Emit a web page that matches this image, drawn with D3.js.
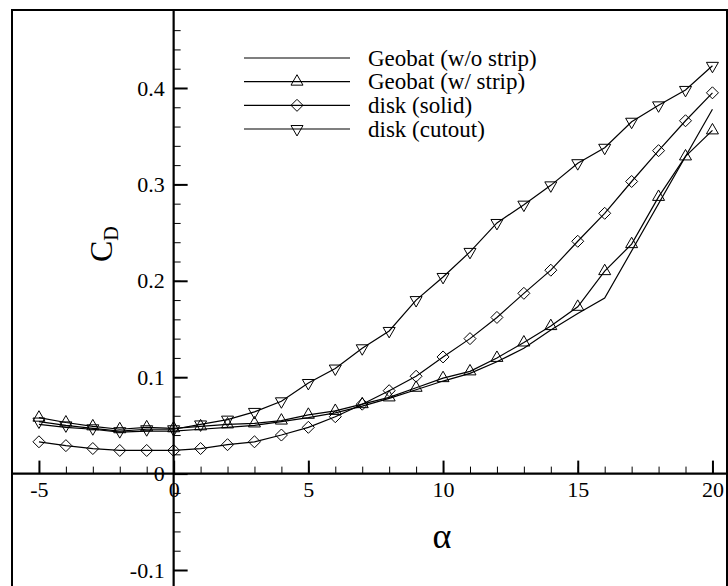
<!DOCTYPE html>
<html>
<head>
<meta charset="utf-8">
<script src="https://cdn.jsdelivr.net/npm/d3@7"></script>
<style>
  body { margin: 0; background: #fff; }
  svg text { font-family: "Liberation Serif", "Times New Roman", "DejaVu Serif", serif; fill: #000; }
</style>
</head>
<body>
<svg id="chart" width="728" height="586"></svg>
<script>
//--------------------------DATA---------------------------------------------------

var alpha = [-5,-4,-3,-2,-1,0,1,2,3,4,5,6,7,8,9,10,11,12,13,14,15,16,17,18,19,20];

// w/o strip has no point between 16 and 20, the line just goes straight
var alphaNoStrip = [-5,-4,-3,-2,-1,0,1,2,3,4,5,6,7,8,9,10,11,12,13,14,15,16,20];
var cdNoStrip = [0.051,0.048,0.046,0.043,0.044,0.044,0.046,0.048,0.050,0.054,0.058,0.063,0.070,0.078,0.087,0.096,0.104,0.116,0.130,0.149,0.166,0.182,0.378];

var cdStrip = [0.058,0.053,0.049,0.046,0.048,0.047,0.049,0.051,0.052,0.055,0.061,0.065,0.072,0.079,0.089,0.099,0.106,0.120,0.136,0.153,0.173,0.210,0.238,0.287,0.329,0.356];

var cdSolid = [0.033,0.029,0.026,0.024,0.024,0.024,0.026,0.030,0.033,0.040,0.048,0.059,0.072,0.086,0.101,0.121,0.140,0.162,0.187,0.211,0.241,0.270,0.303,0.335,0.366,0.395];

var cdCutout = [0.054,0.050,0.047,0.044,0.046,0.046,0.051,0.056,0.064,0.075,0.094,0.109,0.130,0.148,0.180,0.204,0.230,0.260,0.279,0.299,0.322,0.338,0.365,0.382,0.398,0.423];

var xTicks = [-5,0,5,10,15,20];
var yTicks = [-0.1,0,0.1,0.2,0.3,0.4];

var legendNames = ['Geobat (w/o strip)','Geobat (w/ strip)','disk (solid)','disk (cutout)'];
var legendMarks = ['none','up','diamond','down'];

var serif = '"Liberation Serif", "Times New Roman", serif';

//--------------------------SCALES-------------------------------

var svg = d3.select('#chart');

var x = d3.scaleLinear().domain([-6, 20.54]).range([12, 727]);
var y = d3.scaleLinear().domain([-0.1166, 0.4809]).range([586, 10]);

var fmt = function(d){ return String(d); };

//--------------------------FRAME + AXES-------------------------------

svg.append('rect')
  .attr('x', 12).attr('y', 10)
  .attr('width', 715).attr('height', 578)
  .attr('fill', 'none').attr('stroke', '#000').attr('stroke-width', 2);

// minor ticks first, majors on top
var xMinor = d3.axisBottom(x).tickValues(d3.range(-5, 21, 1)).tickSize(-7).tickFormat('');
var yMinor = d3.axisLeft(y).tickValues(d3.range(-10, 48, 2).map(function(v){ return v / 100; })).tickSize(-7).tickFormat('');

svg.append('g').attr('transform', 'translate(0,' + y(0) + ')').call(xMinor);
svg.append('g').attr('transform', 'translate(' + x(0) + ',0)').call(yMinor);

var xAxis = d3.axisBottom(x).tickValues(xTicks).tickSize(-13).tickPadding(8).tickFormat(fmt);
var yAxis = d3.axisLeft(y).tickValues(yTicks).tickSize(-14).tickPadding(9).tickFormat(fmt);

svg.append('g').attr('class', 'major').attr('transform', 'translate(0,' + y(0) + ')').call(xAxis);
svg.append('g').attr('class', 'major').attr('transform', 'translate(' + x(0) + ',0)').call(yAxis);

svg.selectAll('.domain').remove();
svg.selectAll('g').attr('font-family', serif);
svg.selectAll('.tick line').attr('stroke', '#000').attr('stroke-width', 1);
svg.selectAll('.major .tick line').attr('stroke-width', 2);
svg.selectAll('.tick text').attr('font-size', 22).attr('font-family', serif);

// axis lines through zero
svg.append('line')
  .attr('x1', 12).attr('x2', 727).attr('y1', y(0)).attr('y2', y(0))
  .attr('stroke', '#000').attr('stroke-width', 2.2);
svg.append('line')
  .attr('x1', x(0)).attr('x2', x(0)).attr('y1', 10).attr('y2', 586)
  .attr('stroke', '#000').attr('stroke-width', 2.2);

//--------------------------TITLES-------------------------------

svg.append('text')
  .attr('x', 442).attr('y', 548)
  .attr('text-anchor', 'middle').attr('font-size', 36)
  .attr('font-family', serif)
  .text('\u03b1');

var cd = svg.append('text')
  .attr('transform', 'translate(112,262) rotate(-90)')
  .attr('font-family', serif)
  .attr('font-size', 32);
cd.append('tspan').text('C');
cd.append('tspan').attr('font-size', 20).attr('dy', 6).text('D');

//--------------------------MARKERS-------------------------------

// triangles sit on their centroid, like the original plot
function markerPath(type, s) {
  var h = s * 0.87, w = s / 2;
  if (type == 'up') return 'M0,' + (-2 * h / 3) + 'L' + w + ',' + (h / 3) + 'L' + (-w) + ',' + (h / 3) + 'Z';
  if (type == 'down') return 'M0,' + (2 * h / 3) + 'L' + w + ',' + (-h / 3) + 'L' + (-w) + ',' + (-h / 3) + 'Z';
  if (type == 'diamond') return 'M0,' + (-w) + 'L' + w + ',0L0,' + w + 'L' + (-w) + ',0Z';
  return '';
}

var line = d3.line().x(function(d){ return x(d[0]); }).y(function(d){ return y(d[1]); });

var series = [
  { xs: alphaNoStrip, ys: cdNoStrip, mark: 'none' },
  { xs: alpha, ys: cdStrip, mark: 'up' },
  { xs: alpha, ys: cdSolid, mark: 'diamond' },
  { xs: alpha, ys: cdCutout, mark: 'down' }
];

series.forEach(function(s){
  var pts = s.xs.map(function(a, i){ return [a, s.ys[i]]; });
  svg.append('path')
    .datum(pts)
    .attr('d', line)
    .attr('fill', 'none').attr('stroke', '#000').attr('stroke-width', 1.2);
  if (s.mark != 'none') {
    svg.append('g').selectAll('path')
      .data(pts)
      .enter()
      .append('path')
      .attr('transform', function(d){ return 'translate(' + x(d[0]) + ',' + y(d[1]) + ')'; })
      .attr('d', markerPath(s.mark, 12))
      .attr('fill', 'none').attr('stroke', '#000').attr('stroke-width', 1);
  }
});

//--------------------------LEGEND-------------------------------

var legend = svg.append('g');
var rowY = d3.scaleLinear().domain([0, 3]).range([58, 129]);

legendNames.forEach(function(name, i){
  var yy = rowY(i);
  legend.append('line')
    .attr('x1', 244).attr('x2', 350).attr('y1', yy).attr('y2', yy)
    .attr('stroke', '#000').attr('stroke-width', 1.2);
  if (legendMarks[i] != 'none') {
    legend.append('path')
      .attr('transform', 'translate(297,' + yy + ')')
      .attr('d', markerPath(legendMarks[i], 12))
      .attr('fill', 'none').attr('stroke', '#000').attr('stroke-width', 1);
  }
  legend.append('text')
    .attr('x', 368).attr('y', yy).attr('dy', '0.33em')
    .attr('font-size', 23)
    .attr('font-family', serif)
    .text(name);
});
</script>
</body>
</html>
